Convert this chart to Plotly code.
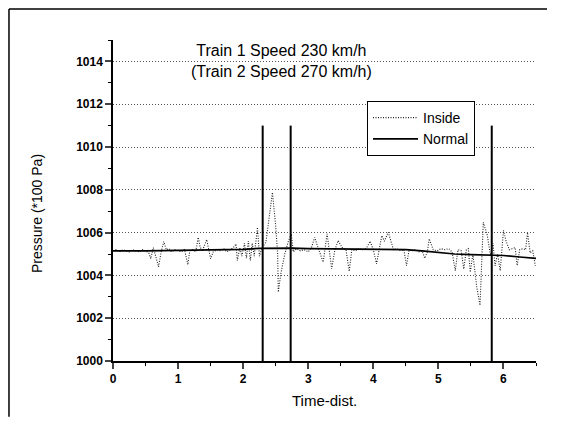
import plotly.graph_objects as go

# ---- data ----
inside_time = [0.00, 0.05, 0.10, 0.15, 0.20, 0.25, 0.30, 0.35, 0.40, 0.45,
               0.50, 0.55, 0.58, 0.62, 0.66, 0.70, 0.74, 0.78, 0.82, 0.86,
               0.90, 0.95, 1.00, 1.05, 1.10, 1.15, 1.18, 1.22, 1.27, 1.31,
               1.34, 1.38, 1.44, 1.50, 1.54, 1.60, 1.65, 1.70, 1.75, 1.80,
               1.85, 1.89, 1.91, 1.95, 1.98, 2.02, 2.05, 2.08, 2.11, 2.14,
               2.17, 2.20, 2.22, 2.25, 2.29, 2.35, 2.40, 2.45, 2.50, 2.53,
               2.54, 2.58, 2.64, 2.69, 2.74, 2.77, 2.82, 2.88, 2.94, 3.00,
               3.05, 3.10, 3.15, 3.23, 3.29, 3.36, 3.41, 3.46, 3.52, 3.58,
               3.63, 3.67, 3.72, 3.78, 3.84, 3.90, 3.95, 4.00, 4.05, 4.10,
               4.13, 4.17, 4.23, 4.31, 4.36, 4.42, 4.47, 4.51, 4.55, 4.60,
               4.65, 4.70, 4.75, 4.79, 4.83, 4.86, 4.92, 4.98, 5.04, 5.10,
               5.16, 5.21, 5.26, 5.30, 5.35, 5.39, 5.43, 5.46, 5.49, 5.53,
               5.59, 5.64, 5.69, 5.75, 5.80, 5.84, 5.87, 5.91, 5.95, 6.00,
               6.04, 6.09, 6.14, 6.18, 6.21, 6.25, 6.30, 6.34, 6.37, 6.41,
               6.45, 6.49]
inside_pressure = [1005.15, 1005.2, 1005.1, 1005.2, 1005.15, 1005.1, 1005.2, 1005.15, 1005.1, 1005.2,
                   1005.15, 1005.05, 1004.78, 1005.3, 1004.9, 1004.4, 1005.1, 1005.58, 1005.2, 1005.25,
                   1005.1, 1005.2, 1005.15, 1005.1, 1005.2, 1004.5, 1005.15, 1005.2, 1005.1, 1005.78,
                   1005.3, 1005.2, 1005.67, 1004.78, 1005.1, 1005.2, 1005.15, 1005.25, 1005.1, 1005.2,
                   1005.3, 1005.47, 1004.7, 1005.3, 1004.9, 1005.5, 1004.8, 1005.6, 1004.7, 1005.5,
                   1004.9, 1005.7, 1006.25, 1004.9, 1005.3, 1005.55, 1006.6, 1007.88, 1006.3, 1005.0,
                   1003.22, 1004.1, 1005.0, 1005.55, 1005.94, 1005.1, 1005.25, 1005.15, 1005.2, 1005.1,
                   1005.3, 1005.78, 1005.3, 1004.62, 1005.94, 1004.31, 1005.2, 1005.63, 1005.3, 1005.2,
                   1004.19, 1005.2, 1005.15, 1005.25, 1005.2, 1005.3, 1005.6, 1005.2, 1004.54, 1005.5,
                   1005.86, 1005.6, 1006.02, 1005.2, 1005.25, 1005.15, 1005.2, 1004.46, 1005.2, 1005.15,
                   1005.2, 1005.1, 1005.15, 1004.8, 1005.1, 1005.71, 1005.2, 1005.15, 1005.25, 1005.2,
                   1005.25, 1005.1, 1004.22, 1005.2, 1005.15, 1004.3, 1005.2, 1005.25, 1004.15, 1005.0,
                   1003.45, 1002.6, 1006.48, 1005.9, 1004.95, 1005.5, 1004.45, 1005.0, 1004.22, 1006.1,
                   1005.6, 1005.2, 1005.25, 1005.3, 1004.46, 1005.2, 1005.25, 1005.2, 1006.0, 1005.05,
                   1005.15, 1004.45]

normal_time = [0.0, 0.25, 0.5, 0.75, 1.0, 1.25, 1.5, 1.75, 2.0, 2.25, 2.5, 2.75, 3.0,
               3.25, 3.5, 3.75, 4.0, 4.25, 4.5, 4.75, 5.0, 5.25, 5.5, 5.75, 6.0, 6.25, 6.5]
normal_pressure = [1005.15, 1005.14, 1005.15, 1005.16, 1005.17, 1005.18, 1005.2, 1005.21, 1005.22,
                   1005.26, 1005.28, 1005.27, 1005.25, 1005.24, 1005.23, 1005.22, 1005.22, 1005.21,
                   1005.2, 1005.15, 1005.08, 1005.0, 1004.97, 1004.96, 1004.93, 1004.86, 1004.8]

passing_times = [2.3, 2.73, 5.82]
passing_marker_range = [1000, 1011]

x_ticks = [0, 1, 2, 3, 4, 5, 6]
y_ticks = [1000, 1002, 1004, 1006, 1008, 1010, 1012, 1014]

FONT = "Liberation Sans, Arial, sans-serif"

fig = go.Figure()
fig.add_trace(go.Scatter(x=inside_time, y=inside_pressure, mode="lines", name="Inside",
                         line=dict(color="#222222", width=1.1, dash="1px,1.5px")))
fig.add_trace(go.Scatter(x=normal_time, y=normal_pressure, mode="lines", name="Normal",
                         line=dict(color="black", width=1.7)))
for t in passing_times:
    fig.add_trace(go.Scatter(x=[t, t], y=passing_marker_range, mode="lines", showlegend=False,
                             line=dict(color="black", width=2), hoverinfo="skip"))

# the page body has an 8px default margin on every side, so the figure is made
# smaller to fit the window without scrollbars
fig.update_layout(
    width=540, height=410,
    margin=dict(l=105, r=12, t=32, b=57),
    paper_bgcolor="white", plot_bgcolor="white",
    font=dict(family=FONT, color="black", size=12),
    showlegend=True,
    legend=dict(x=0.6005, y=0.81, xanchor="left", yanchor="top",
                bordercolor="black", borderwidth=1, bgcolor="white",
                font=dict(family=FONT, size=14), tracegroupgap=0,
                itemwidth=45),
    xaxis=dict(range=[0, 6.5], tickvals=x_ticks, ticks="outside", ticklen=6, tickwidth=1.5,
               showline=True, linecolor="black", linewidth=1.5, showgrid=False, zeroline=False,
               tickfont=dict(family=FONT, size=12, weight="bold"),
               minor=dict(ticks="outside", ticklen=3, dtick=0.5, tickwidth=1, tickcolor="black")),
    yaxis=dict(range=[1000, 1015], tickvals=y_ticks, ticks="outside", ticklen=6, tickwidth=1.5,
               showline=True, linecolor="black", linewidth=1.5, showgrid=True,
               gridcolor="#555555", griddash="1px,2px", gridwidth=1, zeroline=False,
               tickfont=dict(family=FONT, size=12, weight="bold"),
               minor=dict(ticks="outside", ticklen=3, dtick=1, tickwidth=1, tickcolor="black",
                          showgrid=False)),
)

fig.add_annotation(text="Train 1 Speed 230 km/h<br>(Train 2 Speed 270 km/h)",
                   xref="paper", yref="paper", x=0.3995, y=0.9346, xanchor="center",
                   yanchor="middle", showarrow=False,
                   font=dict(family=FONT, size=16), align="center")
fig.add_annotation(text="Time-dist.", xref="paper", yref="paper", x=0.5, y=-0.1215,
                   xanchor="center", yanchor="middle",
                   showarrow=False, font=dict(family=FONT, size=15))
fig.add_annotation(text="Pressure (*100 Pa)", xref="paper", yref="paper", x=-0.1797, y=0.461,
                   xanchor="center", yanchor="middle",
                   showarrow=False, textangle=-90, font=dict(family=FONT, size=14))

# outer frame of the figure: only the left and top edges are visible
fig.add_shape(type="line", xref="paper", yref="paper", x0=-0.2459, x1=-0.2459, y0=-0.174, y1=1.0966,
              line=dict(color="black", width=1.5), layer="below")
fig.add_shape(type="line", xref="paper", yref="paper", x0=-0.2459, x1=1.026, y0=1.0966, y1=1.0966,
              line=dict(color="black", width=1.5), layer="below")

fig.write_html("out.html")
